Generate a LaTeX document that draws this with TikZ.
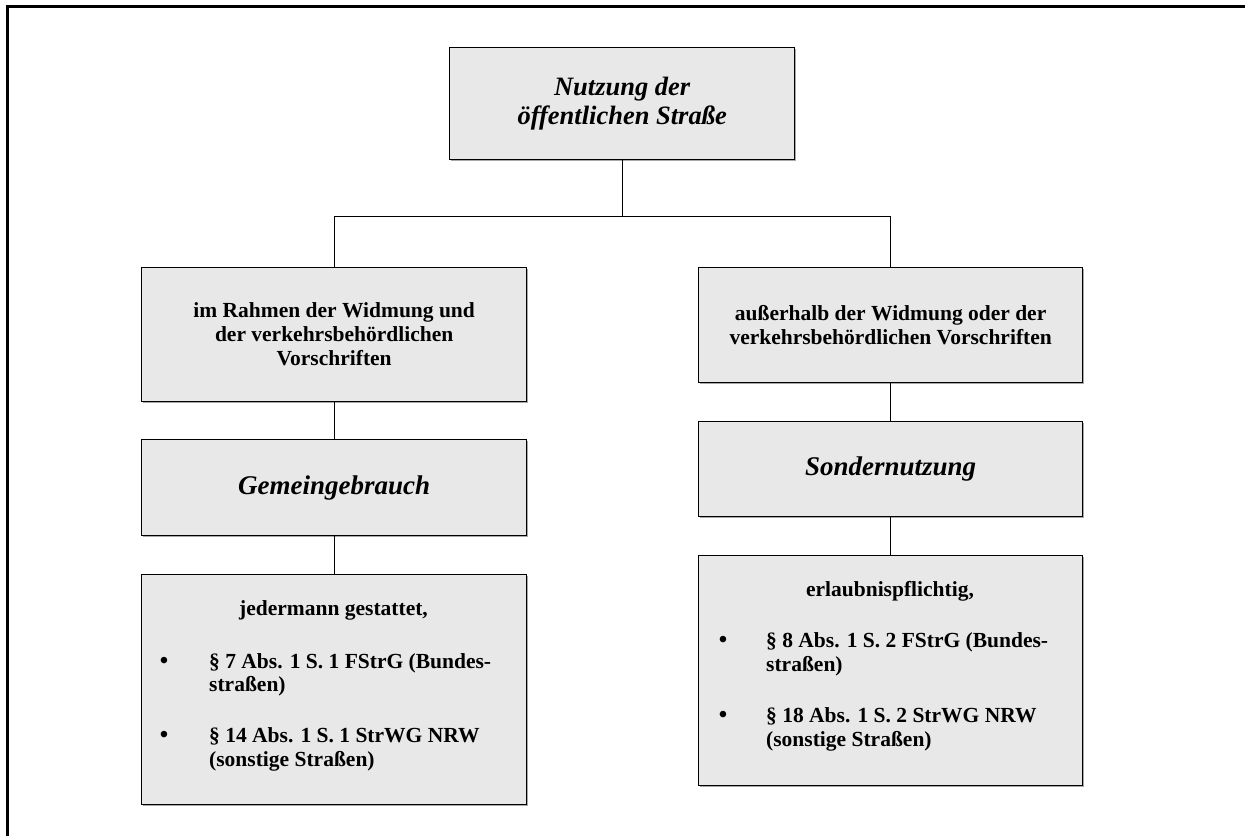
\documentclass[tikz,border=0pt]{standalone}
\usepackage{fontspec}
\setmainfont{Liberation Serif}
\usetikzlibrary{shadows}
\definecolor{boxgray}{HTML}{E8E8E8}
\definecolor{shadowgray}{HTML}{A8A8A8}
\begin{document}
\begin{tikzpicture}[x=1pt,y=-1pt,
  panel/.style={rectangle, draw=black, line width=1.3pt, fill=boxgray,
    inner sep=0pt, anchor=north west, align=center,
    drop shadow={shadow xshift=1.4pt, shadow yshift=-1.2pt, fill=shadowgray, opacity=1}},
  link/.style={draw=black, line width=1.2pt},
  titlefont/.style={font=\fontsize{26.5}{28.5}\selectfont\bfseries\itshape},
  headfont/.style={font=\fontsize{27}{30}\selectfont\bfseries\itshape},
  bodyfont/.style={font=\fontsize{21.5}{24}\selectfont\bfseries},
  txt/.style={inner sep=0pt, bodyfont},
  dot/.style={inner sep=0pt, font=\fontsize{24}{24}\selectfont\bfseries}]
\useasboundingbox (0,0) rectangle (1245,836);

% outer frame (top and left edges only)
\coordinate (fbl) at (7.5,836);
\coordinate (ftl) at (7.5,6.5);
\coordinate (ftr) at (1245,6.5);
\draw[line width=2.2pt] (fbl) -- (ftl) -- (ftr);

% boxes
\node[panel, titlefont, minimum width=345pt, minimum height=112pt] (top) at (449,47)
  {Nutzung der\\öffentlichen Straße};
\node[panel, bodyfont, minimum width=385pt, minimum height=134pt] (lmid) at (141,267)
  {im Rahmen der Widmung und\\der verkehrsbehördlichen\\Vorschriften};
\node[panel, bodyfont, minimum width=384pt, minimum height=115pt] (rmid) at (698,267)
  {außerhalb der Widmung oder der\\verkehrsbehördlichen Vorschriften};
\node[panel, headfont, minimum width=385pt, minimum height=96pt] (gemein) at (141,439)
  {Gemeingebrauch};
\node[panel, headfont, minimum width=384pt, minimum height=95pt] (sonder) at (698,421)
  {Sondernutzung};
\node[panel, minimum width=385pt, minimum height=230pt] (lbot) at (141,574) {};
\node[panel, minimum width=384pt, minimum height=230pt] (rbot) at (698,555) {};

% texts of the lower left box
\node[txt, anchor=mid] (lhead) at (333.5,613) {jedermann gestattet,};
\node[dot, anchor=mid] (lb1) at (164,666) {\textbullet};
\node[txt, anchor=mid west] (l1a) at (209,666) {§ 7 Abs. 1 S. 1 FStrG (Bundes-};
\node[txt, anchor=mid west] (l1b) at (209,689) {straßen)};
\node[dot, anchor=mid] (lb2) at (164,740) {\textbullet};
\node[txt, anchor=mid west] (l2a) at (209,740) {§ 14 Abs. 1 S. 1 StrWG NRW};
\node[txt, anchor=mid west] (l2b) at (209,764) {(sonstige Straßen)};

% texts of the lower right box
\node[txt, anchor=mid] (rhead) at (890,594) {erlaubnispflichtig,};
\node[dot, anchor=mid] (rb1) at (723,645) {\textbullet};
\node[txt, anchor=mid west] (r1a) at (766,645) {§ 8 Abs. 1 S. 2 FStrG (Bundes-};
\node[txt, anchor=mid west] (r1b) at (766,669) {straßen)};
\node[dot, anchor=mid] (rb2) at (723,720) {\textbullet};
\node[txt, anchor=mid west] (r2a) at (766,720) {§ 18 Abs. 1 S. 2 StrWG NRW};
\node[txt, anchor=mid west] (r2b) at (766,744) {(sonstige Straßen)};

% connectors
\coordinate (split) at (333,216.5);
\draw[link] (top.south) -- (top.south |- split);
\draw[link] (lmid.north) -- (lmid.north |- split) -- (rmid.north |- split) -- (rmid.north);
\draw[link] (lmid.south) -- (gemein.north);
\draw[link] (gemein.south) -- (lbot.north);
\draw[link] (rmid.south) -- (sonder.north);
\draw[link] (sonder.south) -- (rbot.north);
\end{tikzpicture}
\end{document}
